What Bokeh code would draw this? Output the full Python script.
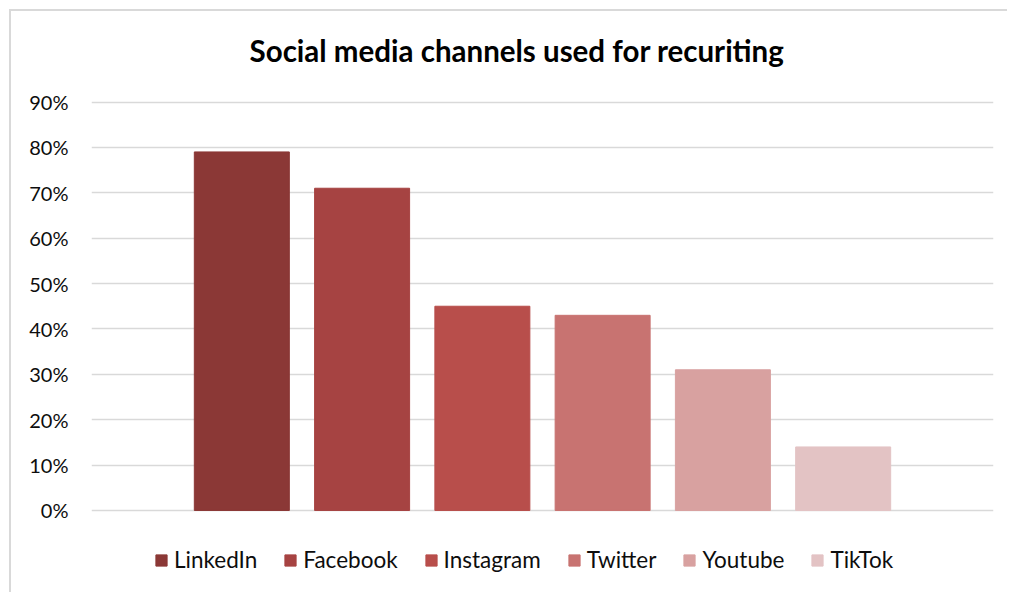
from bokeh.plotting import figure
from bokeh.models import ColumnDataSource, FactorRange, Range1d, NumeralTickFormatter, FixedTicker, Label
from bokeh.embed import file_html
from bokeh.resources import INLINE

# ---- data ----
channels = ["LinkedIn", "Facebook", "Instagram", "Twitter", "Youtube", "TikTok"]
shares = [0.79, 0.71, 0.45, 0.43, 0.31, 0.14]
colors = ["#8B3836", "#A64342", "#B84E4B", "#C87371", "#D8A1A0", "#E3C3C4"]
y_ticks = [0.0, 0.1, 0.2, 0.3, 0.4, 0.5, 0.6, 0.7, 0.8, 0.9]
title_text = "Social media channels used for recuriting"

FONT = "Lato"

src = ColumnDataSource(dict(channel=channels, share=shares, color=colors))

p = figure(
    width=998, height=583,
    margin=(9, 0, 0, 9),
    styles={"border-left": "2px solid #d9d9d9", "border-top": "2px solid #d9d9d9"},
    x_range=FactorRange(*channels, range_padding=0.75, range_padding_units="absolute"),
    y_range=Range1d(-0.1851, 1.0994),
    toolbar_location=None,
    output_backend="svg",
    min_border_left=80, min_border_right=16, min_border_top=0, min_border_bottom=0,
)
p.outline_line_color = None
p.background_fill_color = "white"
p.border_fill_color = "white"
p.xaxis.visible = False

p.vbar(x="channel", top="share", width=0.79, color="color", source=src,
       legend_field="channel")

# title (inside the frame area, above the plot region)
title = Label(x=2.788, y=1.0135, text=title_text, text_align="center",
              text_baseline="middle", text_font=FONT, text_font_size="29.5px",
              text_font_style="bold", text_color="#000000")
p.add_layout(title)

# y axis
yax = p.yaxis[0]
yax.ticker = FixedTicker(ticks=y_ticks)
yax.formatter = NumeralTickFormatter(format="0%")
yax.axis_line_color = None
yax.major_tick_line_color = None
yax.minor_tick_line_color = None
yax.major_label_standoff = 17
yax.major_label_text_font = FONT
yax.major_label_text_font_size = "20px"
yax.major_label_text_color = "#0d0d0d"

p.xgrid.grid_line_color = None
p.ygrid.ticker = FixedTicker(ticks=y_ticks)
p.ygrid.grid_line_color = "#d9d9d9"
p.ygrid.grid_line_width = 1.5

leg = p.legend[0]
leg.orientation = "horizontal"
leg.location = (63, 21)
leg.border_line_color = None
leg.background_fill_alpha = 0
leg.glyph_width = 14
leg.glyph_height = 14
leg.label_standoff = 6
leg.spacing = 26
leg.padding = 0
leg.margin = 0
leg.label_text_font = FONT
leg.label_text_font_size = "22.5px"
leg.label_text_color = "#0d0d0d"

open("out.html", "w").write(file_html(p, INLINE))
